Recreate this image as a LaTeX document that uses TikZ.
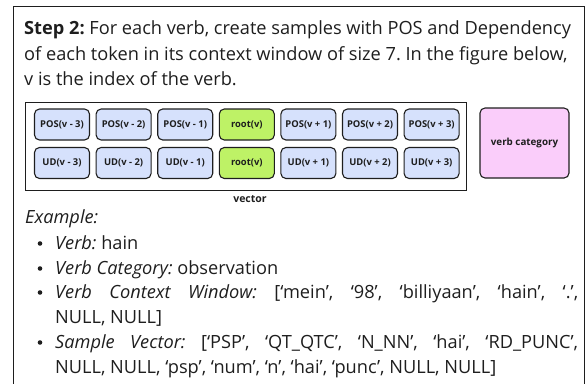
\documentclass[tikz,border=0pt]{standalone}
\usepackage{fontspec}
\setmainfont{Open Sans}
\usepackage{tikz}

\definecolor{posblue}{HTML}{D6E1FC}
\definecolor{rootgreen}{HTML}{BEF266}
\definecolor{catpink}{HTML}{FACDFA}
\definecolor{inkgray}{HTML}{1E1E1E}

\newcommand{\bodysize}{\fontsize{18.2}{25.2}\selectfont}
\frenchspacing

\begin{document}
\begin{tikzpicture}[
		x=1pt, y=-1pt,
		every node/.style={text=inkgray, inner sep=0pt},
		tok/.style={rectangle, rounded corners=5pt, draw=inkgray, line width=1.1pt,
			fill=posblue, minimum width=55pt, minimum height=31pt,
			font=\fontsize{9.4}{11}\selectfont\bfseries},
		dot/.style={circle, fill=inkgray, minimum size=4.6pt},
		line/.style={anchor=base west, font=\bodysize}
	]
  \useasboundingbox (0,0) rectangle (588,383);
  \clip (0,0) rectangle (588,383);
  \draw[inkgray, line width=1pt] (13,400) -- (13,6) -- (584,6) -- (584,400);
  \node (intro1) [line] at (24,34) {\textbf{Step 2:} For each verb, create samples with POS and Dependency};
  \node (intro2) [line] at (24,60) {of each token in its context window of size 7. In the figure below,};
  \node (intro3) [line] at (24,85) {v is the index of the verb.};
  \node (vec) [draw=inkgray, line width=1pt, minimum width=441pt, minimum height=88pt] at (245.5,146) {};
  \node (pos1) [tok] at (62,124.5) {POS(v - 3)};
  \node (pos2) [tok] at (123.6,124.5) {POS(v - 2)};
  \node (pos3) [tok] at (185.2,124.5) {POS(v - 1)};
  \node (pos4) [tok, fill=rootgreen] at (246.8,124.5) {root(v)};
  \node (pos5) [tok] at (308.4,124.5) {POS(v + 1)};
  \node (pos6) [tok] at (370,124.5) {POS(v + 2)};
  \node (pos7) [tok] at (431.6,124.5) {POS(v + 3)};
  \node (ud1) [tok] at (62,163) {UD(v - 3)};
  \node (ud2) [tok] at (123.6,163) {UD(v - 2)};
  \node (ud3) [tok] at (185.2,163) {UD(v - 1)};
  \node (ud4) [tok, fill=rootgreen] at (246.8,163) {root(v)};
  \node (ud5) [tok] at (308.4,163) {UD(v + 1)};
  \node (ud6) [tok] at (370,163) {UD(v + 2)};
  \node (ud7) [tok] at (431.6,163) {UD(v + 3)};
  \node (cat) [tok, fill=catpink, minimum width=89pt, minimum height=70pt,
    font=\fontsize{9.8}{11}\selectfont\bfseries] at (524.5,143) {verb category};
  \node (vec_label) [font=\fontsize{10.5}{11}\selectfont\bfseries] at (250,199) {vector};
  \node (example) [line, font=\bodysize\itshape] at (25,223) {Example:};
  \node (b1) [dot] at (40,243.5) {};
  \node (b2) [dot] at (40,268.5) {};
  \node (b3) [dot] at (40,292.5) {};
  \node (b4) [dot] at (40,342.5) {};
  \node (verb) [line] at (55,249) {\textit{Verb:} hain};
  \node (verbcat) [line] at (55,274) {\textit{Verb Category:} observation};
  \node (window) [line, text width=523pt, align=justify] at (55,298)
    {\textit{Verb Context Window:} [‘mein’, ‘98’, ‘billiyaan’, ‘hain’, ‘.’,\linebreak NULL, NULL]};
  \node (sample) [line, text width=523pt, align=justify] at (55,348)
    {\textit{Sample Vector:} [‘PSP’, ‘QT\_QTC’, ‘N\_NN’, ‘hai’, ‘RD\_PUNC’,\linebreak NULL, NULL, ‘psp’, ‘num’, ‘n’, ‘hai’, ‘punc’, NULL, NULL]};
\end{tikzpicture}
\end{document}
